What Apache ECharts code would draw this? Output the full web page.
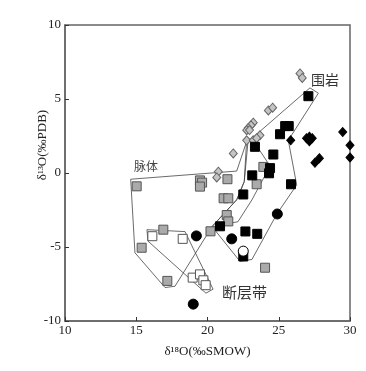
<!DOCTYPE html>
<html>
<head>
<meta charset="utf-8">
<script src="https://cdn.jsdelivr.net/npm/echarts@6/dist/echarts.min.js"></script>
<style>
  html, body { margin: 0; padding: 0; background: #fff; }
  #chart { width: 366px; height: 371px; }
</style>
</head>
<body>
<div id="chart"></div>
<script>
// δ18O / δ13O 数据点
var grayDiamonds = [
  [26.49, 6.73], [26.65, 6.42], [24.27, 4.23], [24.57, 4.41],
  [23.21, 3.40], [23.05, 3.22], [22.86, 3.04], [22.75, 2.89], [22.95, 2.90],
  [22.75, 2.21], [23.21, 2.21], [23.68, 2.55], [23.45, 2.35],
  [21.81, 1.32], [20.76, 0.09], [20.65, -0.30]
];
var blackDiamonds = [
  [25.84, 2.21], [26.95, 2.35], [27.15, 2.45], [27.35, 2.35], [27.15, 2.15],
  [29.49, 2.77], [30.0, 1.88], [30.0, 1.05], [27.54, 0.69], [27.85, 1.00]
];
var blackSquares = [
  [27.08, 5.19], [25.45, 3.17], [25.70, 3.17], [25.09, 2.62], [23.33, 1.77],
  [24.62, 1.25], [24.39, 0.33], [24.32, -0.02], [23.14, -0.16], [25.86, -0.76],
  [22.51, -1.45], [20.88, -3.60], [22.66, -3.95], [23.49, -4.11], [22.51, -5.64]
];
var graySquares = [
  [23.92, 0.41], [23.45, -0.76], [21.40, -0.42], [21.13, -1.71], [21.46, -1.71],
  [21.35, -2.84], [21.46, -3.27], [20.21, -3.94], [15.03, -0.90],
  [19.47, -0.50], [19.62, -0.65], [19.47, -0.92], [16.90, -3.83],
  [15.38, -5.05], [17.18, -7.29], [24.04, -6.40]
];
var openSquares = [
  [16.13, -4.27], [18.26, -4.45], [18.96, -7.07], [19.47, -6.85], [19.71, -7.25], [19.87, -7.58]
];
var blackCircles = [[24.90, -2.77], [21.70, -4.45], [19.22, -4.25], [19.00, -8.86]];
var openCircles = [[22.51, -5.28]];

// 分区界线
var veinField = [
  [14.61, -0.42], [22.05, 0.13], [22.74, 2.11], [22.58, -0.58], [22.05, -1.81],
  [20.32, -3.62], [17.72, -7.65], [17.02, -7.74], [14.91, -5.39], [14.61, -0.42]
];
var wallField = [
  [27.19, 5.75], [27.78, 5.39], [25.67, 2.21], [26.26, -0.81], [24.88, -2.75],
  [23.12, -5.84], [22.28, -5.97], [20.32, -3.62], [22.05, -1.81], [22.58, -0.58],
  [22.84, 2.11], [27.19, 5.75]
];
var innerField = [
  [22.84, 2.11], [23.19, 2.21], [24.39, 0.47], [23.12, -1.81], [22.14, -3.29], [20.39, -3.62]
];
var openField = [
  [15.75, -3.83], [18.42, -3.96], [20.39, -7.85], [19.89, -8.12], [15.82, -4.60], [15.75, -3.83]
];

var xTicks = [10, 15, 20, 25, 30];
var yTicks = [-10, -5, 0, 5, 10];

var serif = 'Liberation Serif';
var cjk = 'Noto Sans CJK SC';

function pts(name, data, symbol, size, fill, border) {
  return {
    name: name, type: 'scatter', data: data, symbol: symbol, symbolSize: size,
    itemStyle: { color: fill, borderColor: border, borderWidth: 1, opacity: 1 },
    z: 3
  };
}
function field(data) {
  return {
    type: 'line', data: data, symbol: 'none', silent: true, z: 2,
    lineStyle: { color: '#444', width: 0.8 }
  };
}

var chart = echarts.init(document.getElementById('chart'));
chart.setOption({
  animation: false,
  grid: { left: 65, right: 16, top: 25, bottom: 50, show: true, borderColor: '#666', borderWidth: 1.5 },
  xAxis: {
    type: 'value', min: xTicks[0], max: xTicks[xTicks.length - 1], interval: 5,
    name: 'δ¹⁸O(‰SMOW)', nameLocation: 'middle', nameGap: 24,
    nameTextStyle: { fontFamily: serif, fontSize: 13, color: '#222' },
    axisLine: { onZero: false, lineStyle: { color: '#666', width: 1.5 } },
    axisTick: { inside: true, length: 4, lineStyle: { color: '#333' } },
    axisLabel: { fontFamily: serif, fontSize: 13, color: '#222', margin: 3 },
    splitLine: { show: false }
  },
  yAxis: {
    type: 'value', min: yTicks[0], max: yTicks[yTicks.length - 1], interval: 5,
    axisLine: { show: true, onZero: false, lineStyle: { color: '#666', width: 1.5 } },
    axisTick: { show: true, inside: true, length: 4, lineStyle: { color: '#333' } },
    axisLabel: { fontFamily: serif, fontSize: 13, color: '#222', margin: 4 },
    splitLine: { show: false }
  },
  graphic: [
    { type: 'text', x: 43, y: 145, rotation: Math.PI / 2, style: { text: 'δ¹³O(‰PDB)', font: '13px "Liberation Serif"', fill: '#222', textAlign: 'center', textVerticalAlign: 'middle' } },
    { type: 'text', x: 311, y: 73, style: { text: '围岩', font: '14px "' + cjk + '"', fill: '#333' } },
    { type: 'text', x: 134, y: 160, style: { text: '脉体', font: '12px "' + cjk + '"', fill: '#444' } },
    { type: 'text', x: 222, y: 285, style: { text: '断层带', font: '15px "' + cjk + '"', fill: '#333' } }
  ],
  series: [
    field(veinField), field(wallField), field(innerField), field(openField),
    pts('围岩', grayDiamonds, 'diamond', [8, 9], '#c4c4c4', '#666'),
    pts('黑菱形', blackDiamonds, 'diamond', [8, 9], '#000', '#000'),
    pts('灰方', graySquares, 'rect', 9, '#aaa', '#555'),
    pts('白方', openSquares, 'rect', 9, '#fff', '#555'),
    pts('黑方', blackSquares, 'rect', 9, '#000', '#000'),
    pts('黑圆', blackCircles, 'circle', 10, '#000', '#000'),
    pts('白圆', openCircles, 'circle', 10, '#fff', '#000')
  ]
});
</script>
</body>
</html>
